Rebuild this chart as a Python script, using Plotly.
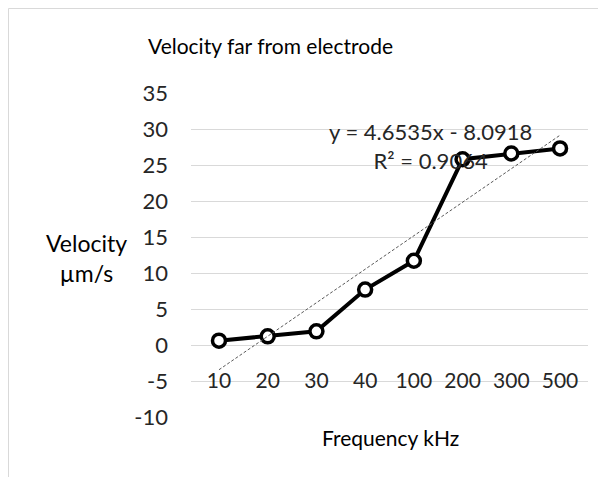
import plotly.graph_objects as go

# ---- data ----
freq_labels = ["10", "20", "30", "40", "100", "200", "300", "500"]
velocity = [0.6, 1.2, 1.9, 7.7, 11.7, 25.8, 26.6, 27.3]
trend_slope = 4.6535
trend_intercept = -8.0918
trend_r2 = "0.9064"
y_ticks = [-10, -5, 0, 5, 10, 15, 20, 25, 30, 35]
y_tick_text = ["-10", "-5", "0", "5", "10", "15", "20", "25", "30", "35"]

FONT = "Lato"
OFF = 8  # page body margin
W, H = 598, 469
L, R, T, B = 183, 18, 85, 60
pw, ph = W - L - R, H - T - B

def px(xp):
    """page x pixel -> paper coordinate"""
    return (xp - OFF - L) / pw

def py(yp):
    """page y pixel -> paper coordinate"""
    return (H - B - (yp - OFF)) / ph

trend_y = [trend_slope * (i + 1) + trend_intercept for i in range(len(freq_labels))]

fig = go.Figure()
fig.add_trace(go.Scatter(
    x=freq_labels, y=velocity, mode="lines+markers",
    line=dict(color="black", width=4),
    marker=dict(symbol="circle", size=13, color="white",
                line=dict(color="black", width=3.5)),
    showlegend=False, hoverinfo="skip"))
fig.add_trace(go.Scatter(
    x=freq_labels, y=trend_y, mode="lines",
    line=dict(color="#595959", width=1, dash="3px,2px"),
    showlegend=False, hoverinfo="skip"))

fig.update_layout(
    width=W, height=H,
    margin=dict(l=L, r=R, t=T, b=B),
    paper_bgcolor="white", plot_bgcolor="white",
    font=dict(family=FONT, color="#262626"),
    showlegend=False,
)
fig.update_xaxes(
    type="category", showgrid=False, zeroline=False, showline=False,
    anchor="free", position=py(366), side="bottom",
    ticks="", tickfont=dict(size=21, family=FONT, color="#262626"),
)
fig.update_yaxes(
    range=[-10, 35], tickvals=y_ticks, ticktext=y_tick_text,
    showgrid=True, gridcolor="#d9d9d9",
    gridwidth=1, zeroline=False, showline=False, ticks="",
    ticklabelstandoff=22,
    tickfont=dict(size=22, family=FONT, color="#262626"),
)

# chart frame
fig.add_shape(type="rect", xref="paper", yref="paper",
              x0=px(8.5), x1=px(620), y0=py(490), y1=py(8.5),
              line=dict(color="#d9d9d9", width=1), fillcolor="rgba(0,0,0,0)",
              layer="below")

fig.add_annotation(text="Velocity far from electrode", xref="paper", yref="paper",
                   x=px(270), y=py(45), xanchor="center", yanchor="middle",
                   showarrow=False,
                   font=dict(size=21, family=FONT, color="black"))
fig.add_annotation(text="Velocity<br>µm/s", xref="paper", yref="paper",
                   x=px(86), y=py(258), xanchor="center", yanchor="middle",
                   showarrow=False, align="center",
                   font=dict(size=23, family=FONT, color="black"))
fig.add_annotation(text="Frequency kHz", xref="paper", yref="paper",
                   x=px(390), y=py(437), xanchor="center", yanchor="middle",
                   showarrow=False,
                   font=dict(size=21, family=FONT, color="black"))
fig.add_annotation(
    text=f"y = {trend_slope}x - {abs(trend_intercept)}<br>R² = {trend_r2}",
    xref="paper", yref="paper", x=px(430), y=py(146), xanchor="center",
    yanchor="middle", showarrow=False,
    align="center", font=dict(size=22, family=FONT, color="#262626"))

fig.write_html("out.html")
